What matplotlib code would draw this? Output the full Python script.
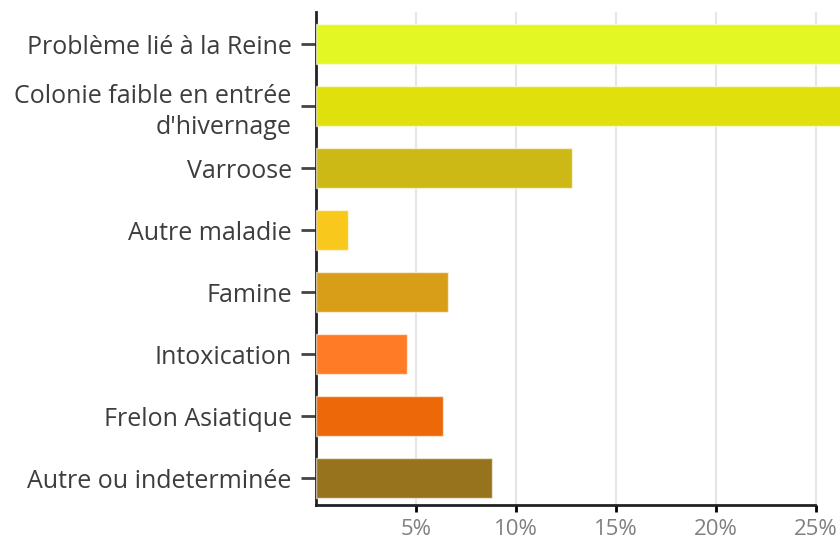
import matplotlib
matplotlib.use('Agg')
import matplotlib.pyplot as plt

# Causes of colony loss, share of answers (%)
categories = ["Problème lié à la Reine", "Colonie faible en entrée\nd'hivernage", "Varroose",
              "Autre maladie", "Famine", "Intoxication", "Frelon Asiatique", "Autre ou indeterminée"]
values = [27.5, 27.0, 12.8, 1.6, 6.6, 4.55, 6.35, 8.8]
colors = ["#E3F724", "#E0E00C", "#CDB916", "#F8C81D", "#D89E18", "#FF7B25", "#EC6808", "#98731E"]
xticks = [5, 10, 15, 20, 25]
xticklabels = ["5%", "10%", "15%", "20%", "25%"]

fig = plt.figure(figsize=(8.4, 5.39), dpi=100)
ax = fig.add_axes([316 / 840, 1 - 505 / 539, 1 - 316 / 840, (505 - 12) / 539])

ypos = list(range(len(categories)))
ax.barh(ypos, values, height=0.65, color=colors, edgecolor=(1, 1, 1, 0.6), linewidth=1, zorder=3)

ax.set_xlim(0, 26.2)
ax.set_ylim(len(categories) - 1 + 0.435, -0.52)

ax.set_yticks(ypos)
ax.set_yticklabels(categories, fontsize=18, color="#3d3d3d", family=["Open Sans", "DejaVu Sans"],
                   linespacing=1.3)
ax.set_xticks(xticks)
ax.set_xticklabels(xticklabels, fontsize=16, color="#808080", family=["Open Sans", "DejaVu Sans"])

ax.tick_params(axis='y', length=11, width=2, color="#444444", pad=6.5)
ax.tick_params(axis='x', length=5, width=2, color="black", pad=5)

ax.grid(axis='x', color="#e6e6e6", linewidth=1.5, zorder=0)
for s in ["top", "right"]:
    ax.spines[s].set_visible(False)
ax.spines["left"].set_linewidth(2)
ax.spines["left"].set_color("#222222")
ax.spines["bottom"].set_linewidth(2)
ax.spines["bottom"].set_color("#222222")
ax.spines["bottom"].set_bounds(0, 24.95)

fig.savefig("out.png", dpi=100)
